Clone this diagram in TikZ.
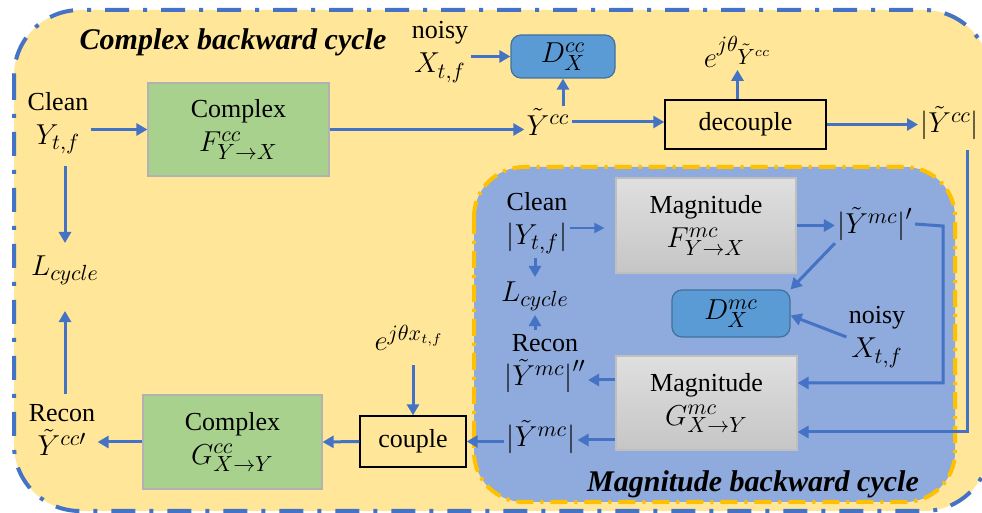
\documentclass[tikz,border=0pt]{standalone}
\usepackage{fontspec}
\setmainfont{Liberation Serif}
\usetikzlibrary{arrows.meta,calc}
\definecolor{bgY}{HTML}{FFE699}
\definecolor{lblue}{HTML}{4472C4}
\definecolor{innerB}{HTML}{8FAADC}
\definecolor{gold}{HTML}{FFC000}
\definecolor{boxG}{HTML}{A9D18E}
\definecolor{boxD}{HTML}{5B9BD5}
\definecolor{boxDb}{HTML}{41719C}
\newcommand{\mth}[1]{{\fontsize{15}{17}\selectfont$#1$}}
\begin{document}
\begin{tikzpicture}[x=0.5pt,y=-0.5pt,
  arr/.style={draw=lblue,line width=1.5pt,-{Triangle[length=5.5pt,width=6pt]}},
  thinarr/.style={draw=lblue,line width=0.8pt,-{Triangle[length=5pt,width=5pt]}},
  txt/.style={font=\fontsize{13}{17}\selectfont,inner sep=1pt,align=center},
  ttl/.style={font=\fontsize{15}{18}\selectfont\bfseries\itshape,inner sep=0pt},
  greenbox/.style={txt,draw=gray!60,line width=0.6pt,fill=boxG,minimum width=90pt,minimum height=47pt},
  graybox/.style={txt,draw=gray!50,line width=0.6pt,top color=gray!25,bottom color=gray!45,minimum width=90pt,minimum height=47pt},
  dbox/.style={txt,draw=boxDb,line width=0.6pt,fill=boxD,rounded corners=5pt},
  plainbox/.style={txt,draw=black,line width=0.7pt}
]
\useasboundingbox (0,0) rectangle (982,513);
\begin{scope}
\clip (0,0) rectangle (982,513);
% outer region
\draw[draw=lblue,fill=bgY,line width=2pt,rounded corners=33pt,
  dash pattern=on 12pt off 7pt on 2pt off 7pt] (14,10) rectangle (990,511);
% inner region
\draw[draw=gold,fill=innerB,line width=2pt,rounded corners=25pt,
  dash pattern=on 8.5pt off 3.5pt on 1.5pt off 3.5pt] (474,167) rectangle (955,502);

% titles
\node[ttl] (titleC) at (233,42) {Complex backward cycle};
\node[ttl] (titleM) at (753,484) {Magnitude backward cycle};

% complex cycle nodes
\node[txt] (clean) at (58,123) {Clean\\\mth{Y_{t,f}}};
\node[txt] (Lc) at (65,270) {\mth{L_{cycle}}};
\node[txt] (reconC) at (62,430) {Recon\\\mth{\tilde{Y}^{cc\prime}}};
\node[greenbox,minimum width=90.5pt,minimum height=46.5pt] (FC) at (238.5,129.5) {Complex\\\mth{F^{cc}_{Y\to X}}};
\node[greenbox,minimum width=89.5pt,minimum height=47pt] (GC) at (232.5,442) {Complex\\\mth{G^{cc}_{X\to Y}}};
\node[plainbox,minimum width=53pt,minimum height=25.5pt] (couple) at (413,441.5) {couple};
\node[txt] (ejx) at (409,338) {\mth{e^{j\theta x_{t,f}}}};
\node[txt] (noisy1) at (440,52) {noisy\\\mth{X_{t,f}}};
\node[dbox,minimum width=52pt,minimum height=21.5pt] (DC) at (563,56.5) {\mth{D^{cc}_{X}}};
\node[txt] (Ycc) at (548,122) {\mth{\tilde{Y}^{cc}}};
\node[plainbox,minimum width=80.5pt,minimum height=24.5pt] (dec) at (745.5,124.5) {decouple};
\node[txt] (ejy) at (738,52) {\mth{e^{j\theta_{\scriptstyle\tilde{Y}^{cc}}}}};
\node[txt,anchor=west] (absYcc) at (918,123) {\mth{\bigl|\tilde{Y}^{cc}\bigr|}};
\coordinate (rt) at (967,150);

% magnitude cycle nodes
\node[txt] (cleanM) at (537,223) {Clean\\\mth{\bigl|Y_{t,f}\bigr|}};
\node[txt] (LM) at (535,296) {\mth{L_{cycle}}};
\node[txt] (reconM) at (545,364) {Recon\\\mth{\bigl|\tilde{Y}^{mc}\bigr|''}};
\node[graybox,minimum width=90pt,minimum height=47.5pt] (FM) at (706,225.5) {Magnitude\\\mth{F^{mc}_{Y\to X}}};
\node[graybox,minimum width=90.5pt,minimum height=47pt] (GM) at (706.5,403) {Magnitude\\\mth{G^{mc}_{X\to Y}}};
\node[txt] (YmcP) at (875,224) {\mth{\bigl|\tilde{Y}^{mc}\bigr|'}};
\node[dbox,minimum width=59pt,minimum height=23.5pt] (DM) at (731,313.5) {\mth{D^{mc}_{X}}};
\node[txt] (noisy2) at (877,337) {noisy\\\mth{X_{t,f}}};
\node[txt] (YmcG) at (541,437) {\mth{\bigl|\tilde{Y}^{mc}\bigr|}};
\coordinate (c2) at (943,226);

% complex cycle connectors
\draw[arr] (clean.east |- FC.west) -- (FC.west);
\draw[arr] (FC.east) -- (Ycc.west |- FC.east);
\draw[arr] (noisy1.east |- DC.west) -- (DC.west);
\draw[arr] (DC.south |- Ycc.north) -- (DC.south);
\draw[arr] (Ycc.east) -- (dec.west |- Ycc.east);
\draw[arr] ([xshift=-4pt]dec.north) -- ([xshift=-4pt]dec.north |- ejy.south);
\draw[arr] (dec.east) -- (absYcc.west |- dec.east);
\draw[arr] (rt) |- ([yshift=-14.5pt]GM.east);
\draw[arr,shorten <=5pt,shorten >=5pt] (clean.south -| Lc.north) -- (Lc.north);
\draw[arr,shorten <=4pt,shorten >=12pt] (reconC.north -| Lc.south) -- (Lc.south);
\draw[arr] (GC.west) -- (reconC.east |- GC.west);
\draw[arr] (couple.west) -- (GC.east);
\draw[arr,shorten <=6pt] (couple.north |- ejx.south) -- (couple.north);
\draw[arr] (YmcG.west |- couple.east) -- (couple.east);

% magnitude cycle connectors
\draw[thinarr,shorten >=5.5pt] ([yshift=-2.5pt]cleanM.east) -- ([yshift=-2.5pt]cleanM.east -| FM.west);
\draw[arr] (FM.east) -- (YmcP.west |- FM.east);
\draw[arr] (YmcP.east) -- (c2) |- ([yshift=10pt]GM.east);
\draw[arr] (YmcP.south west) -- (DM.north east);
\draw[arr] (noisy2.west) -- ([yshift=-1pt]DM.east);
\draw[arr] ([yshift=11.5pt]GM.west) -- ([yshift=11.5pt]GM.west -| reconM.east);
\draw[arr] ([yshift=-18.5pt]GM.west) -- ([yshift=-18.5pt]GM.west -| YmcG.east);
\draw[arr,shorten <=1pt,shorten >=1pt] (cleanM.south -| LM.north) -- (LM.north);
\draw[arr,shorten <=1pt,shorten >=1pt] (reconM.north -| LM.south) -- (LM.south);
\end{scope}
\end{tikzpicture}
\end{document}
